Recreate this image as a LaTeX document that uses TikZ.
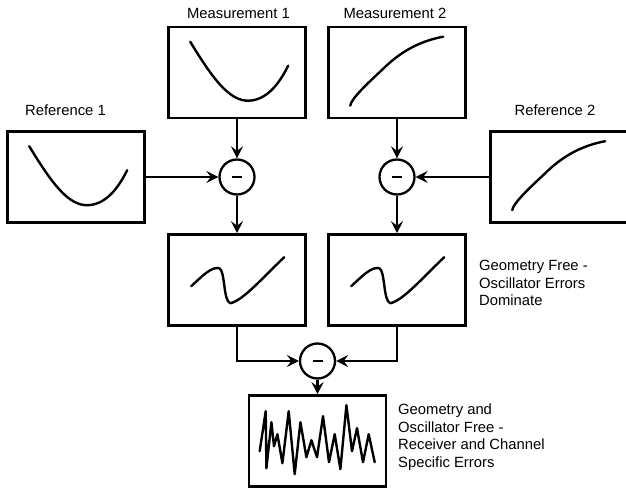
\documentclass[tikz,border=0pt]{standalone}
\usepackage{fontspec}
\setmainfont{Liberation Sans}
\usetikzlibrary{arrows.meta}

% the little curves drawn inside the boxes, relative to a box's north west corner
\tikzset{
  bowl/.pic={\draw[plotline] (23,16) .. controls (45,52) and (62,76) .. (82,75)
             .. controls (100,74) and (112,58) .. (121,40);},
  rise/.pic={\draw[plotline] (23,80) .. controls (24,73) and (40,58) .. (55,44)
             .. controls (75,24) and (95,15) .. (116,11);},
  wiggle/.pic={\draw[plotline] (24,53) .. controls (34,44) and (44,33) .. (52,35)
             .. controls (58,37) and (56,68) .. (63,70)
             .. controls (75,68) and (95,45) .. (117,24);},
  noise/.pic={\draw[plotline] (12,57) -- (18,17) -- (18.7,74) -- (23.7,28) -- (26.3,52)
             -- (29.7,40) -- (34.7,69) -- (41,17) -- (47,80) -- (52.7,28) -- (58.7,63)
             -- (63.7,46) -- (69.3,63) -- (75.3,22) -- (81.3,68) -- (87,40) -- (92.7,75)
             -- (98.7,11) -- (104.3,57) -- (109.3,34) -- (115.3,68) -- (121,40) -- (127,68);}
}

\begin{document}
\begin{tikzpicture}[
  x=1pt, y=-1pt,
  every node/.style={inner sep=0pt},
  font=\fontsize{14.8}{17.5}\selectfont,
  box/.style={draw, line width=2.6pt, minimum width=137pt, minimum height=91pt},
  sub/.style={circle, draw, line width=2.3pt, minimum size=35pt, fill=white},
  plotline/.style={line width=2.4pt, line cap=round, line join=round},
  arrow/.style={draw, line width=2.3pt, -{Stealth[length=12pt, width=12pt, inset=4.5pt]}},
  label/.style={anchor=base},
  note/.style={anchor=north west, align=left}]

  \useasboundingbox (0,0) rectangle (626,492);

  % boxes
  \node[box] (m1)  at (237,72.5)  {};
  \node[box] (m2)  at (397,72.5)  {};
  \node[box] (r1)  at (76,177)    {};
  \node[box] (r2)  at (559,177)   {};
  \node[box] (d1)  at (237,280)   {};
  \node[box] (d2)  at (397,280)   {};
  \node[box] (res) at (317.5,441) {};

  % subtraction points
  \node[sub] (s1) at (237,177) {};
  \node[sub] (s2) at (397,177) {};
  \node[sub] (s3) at (317.5,361) {};
  \foreach \s in {s1,s2,s3}
    \draw[line width=2.8pt] ([xshift=-5pt]\s.center) -- ([xshift=5pt]\s.center);

  % curves
  \pic at (m1.north west) {bowl};
  \pic at (r1.north west) {bowl};
  \pic at (m2.north west) {rise};
  \pic at (r2.north west) {rise};
  \pic at (d1.north west) {wiggle};
  \pic at (d2.north west) {wiggle};
  \pic at (res.north west) {noise};

  % arrows
  \draw[arrow] (m1) -- (s1);
  \draw[arrow] (r1) -- (s1);
  \draw[arrow] (s1) -- (d1);
  \draw[arrow] (m2) -- (s2);
  \draw[arrow] (r2) -- (s2);
  \draw[arrow] (s2) -- (d2);
  \draw[arrow] (d1.south) |- (s3);
  \draw[arrow] (d2.south) |- (s3);
  \draw[arrow] (s3) -- (res);

  % texts
  \node[label] (t1) at (238.5,19) {Measurement 1};
  \node[label] (t2) at (395,19)   {Measurement 2};
  \node[label] (t3) at (65.5,116) {Reference 1};
  \node[label] (t4) at (555,116)  {Reference 2};
  \node[note] (t5) at (479,260) {Geometry Free -\\Oscillator Errors\\Dominate};
  \node[note] (t6) at (398,404) {Geometry and\\Oscillator Free -\\Receiver and Channel\\Specific Errors};
\end{tikzpicture}
\end{document}
